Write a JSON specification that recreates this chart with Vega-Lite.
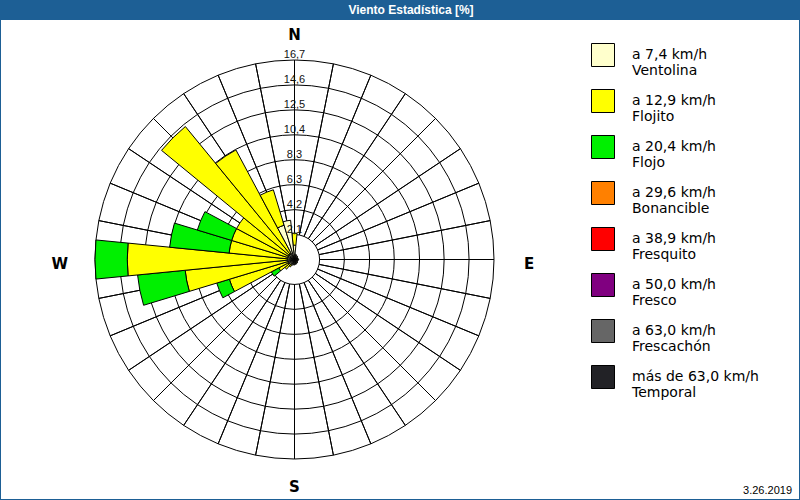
{
  "$schema": "https://vega.github.io/schema/vega-lite/v6.json",
  "background": "#1d5f95",
  "padding": {"left": 1, "right": 1, "top": 0, "bottom": 1},
  "spacing": 0,
  "config": {"view": {"stroke": null, "fill": "white"}, "concat": {"spacing": 0}},
  "datasets": {
    "titulo": [{"t": "Viento Estadística [%]"}],
    "spokes": [
      {"a": 0}, {"a": 11.25}, {"a": 22.5}, {"a": 33.75}, {"a": 45}, {"a": 56.25}, {"a": 67.5}, {"a": 78.75},
      {"a": 90}, {"a": 101.25}, {"a": 112.5}, {"a": 123.75}, {"a": 135}, {"a": 146.25}, {"a": 157.5}, {"a": 168.75},
      {"a": 180}, {"a": 191.25}, {"a": 202.5}, {"a": 213.75}, {"a": 225}, {"a": 236.25}, {"a": 247.5}, {"a": 258.75},
      {"a": 270}, {"a": 281.25}, {"a": 292.5}, {"a": 303.75}, {"a": 315}, {"a": 326.25}, {"a": 337.5}, {"a": 348.75}
    ],
    "rings": [
      {"r": 2.0875, "lab": "2,1"}, {"r": 4.175, "lab": "4,2"}, {"r": 6.2625, "lab": "6,3"}, {"r": 8.35, "lab": "8,3"},
      {"r": 10.4375, "lab": "10,4"}, {"r": 12.525, "lab": "12,5"}, {"r": 14.6125, "lab": "14,6"}, {"r": 16.7, "lab": "16,7"}
    ],
    "cardNS": [{"c": "N", "a": 0}, {"c": "S", "a": 180}],
    "cardWE": [{"c": "E", "a": 90}, {"c": "W", "a": 270}],
    "fecha": [{"f": "3.26.2019"}],
    "wind": [
      {"dir": 0, "k": 1, "clase": "a 7,4 km/h|Ventolina", "pct": 1.2},
      {"dir": 0, "k": 2, "clase": "a 12,9 km/h|Flojito", "pct": 1.0},
      {"dir": 11.25, "k": 1, "clase": "a 7,4 km/h|Ventolina", "pct": 0.45},
      {"dir": 22.5, "k": 1, "clase": "a 7,4 km/h|Ventolina", "pct": 0.4},
      {"dir": 33.75, "k": 1, "clase": "a 7,4 km/h|Ventolina", "pct": 0.35},
      {"dir": 45, "k": 1, "clase": "a 7,4 km/h|Ventolina", "pct": 0.35},
      {"dir": 56.25, "k": 1, "clase": "a 7,4 km/h|Ventolina", "pct": 0.3},
      {"dir": 67.5, "k": 1, "clase": "a 7,4 km/h|Ventolina", "pct": 0.3},
      {"dir": 78.75, "k": 1, "clase": "a 7,4 km/h|Ventolina", "pct": 0.3},
      {"dir": 90, "k": 1, "clase": "a 7,4 km/h|Ventolina", "pct": 0.35},
      {"dir": 101.25, "k": 1, "clase": "a 7,4 km/h|Ventolina", "pct": 0.3},
      {"dir": 112.5, "k": 1, "clase": "a 7,4 km/h|Ventolina", "pct": 0.3},
      {"dir": 123.75, "k": 1, "clase": "a 7,4 km/h|Ventolina", "pct": 0.3},
      {"dir": 135, "k": 1, "clase": "a 7,4 km/h|Ventolina", "pct": 0.35},
      {"dir": 146.25, "k": 1, "clase": "a 7,4 km/h|Ventolina", "pct": 0.35},
      {"dir": 157.5, "k": 1, "clase": "a 7,4 km/h|Ventolina", "pct": 0.4},
      {"dir": 168.75, "k": 1, "clase": "a 7,4 km/h|Ventolina", "pct": 0.4},
      {"dir": 180, "k": 1, "clase": "a 7,4 km/h|Ventolina", "pct": 0.45},
      {"dir": 191.25, "k": 1, "clase": "a 7,4 km/h|Ventolina", "pct": 0.45},
      {"dir": 202.5, "k": 1, "clase": "a 7,4 km/h|Ventolina", "pct": 0.5},
      {"dir": 213.75, "k": 1, "clase": "a 7,4 km/h|Ventolina", "pct": 0.5},
      {"dir": 213.75, "k": 2, "clase": "a 12,9 km/h|Flojito", "pct": 0.2},
      {"dir": 225, "k": 1, "clase": "a 7,4 km/h|Ventolina", "pct": 0.55},
      {"dir": 225, "k": 2, "clase": "a 12,9 km/h|Flojito", "pct": 0.5},
      {"dir": 236.25, "k": 1, "clase": "a 7,4 km/h|Ventolina", "pct": 0.6},
      {"dir": 236.25, "k": 2, "clase": "a 12,9 km/h|Flojito", "pct": 0.9},
      {"dir": 236.25, "k": 3, "clase": "a 20,4 km/h|Flojo", "pct": 0.7},
      {"dir": 247.5, "k": 1, "clase": "a 7,4 km/h|Ventolina", "pct": 0.6},
      {"dir": 247.5, "k": 2, "clase": "a 12,9 km/h|Flojito", "pct": 5.1},
      {"dir": 247.5, "k": 3, "clase": "a 20,4 km/h|Flojo", "pct": 1.1},
      {"dir": 258.75, "k": 1, "clase": "a 7,4 km/h|Ventolina", "pct": 0.6},
      {"dir": 258.75, "k": 2, "clase": "a 12,9 km/h|Flojito", "pct": 8.6},
      {"dir": 258.75, "k": 3, "clase": "a 20,4 km/h|Flojo", "pct": 4.0},
      {"dir": 270, "k": 1, "clase": "a 7,4 km/h|Ventolina", "pct": 0.6},
      {"dir": 270, "k": 2, "clase": "a 12,9 km/h|Flojito", "pct": 13.4},
      {"dir": 270, "k": 3, "clase": "a 20,4 km/h|Flojo", "pct": 2.7},
      {"dir": 281.25, "k": 1, "clase": "a 7,4 km/h|Ventolina", "pct": 0.6},
      {"dir": 281.25, "k": 2, "clase": "a 12,9 km/h|Flojito", "pct": 4.9},
      {"dir": 281.25, "k": 3, "clase": "a 20,4 km/h|Flojo", "pct": 5.0},
      {"dir": 292.5, "k": 1, "clase": "a 7,4 km/h|Ventolina", "pct": 0.6},
      {"dir": 292.5, "k": 2, "clase": "a 12,9 km/h|Flojito", "pct": 4.9},
      {"dir": 292.5, "k": 3, "clase": "a 20,4 km/h|Flojo", "pct": 3.0},
      {"dir": 303.75, "k": 1, "clase": "a 7,4 km/h|Ventolina", "pct": 0.6},
      {"dir": 303.75, "k": 2, "clase": "a 12,9 km/h|Flojito", "pct": 4.9},
      {"dir": 315, "k": 1, "clase": "a 7,4 km/h|Ventolina", "pct": 0.6},
      {"dir": 315, "k": 2, "clase": "a 12,9 km/h|Flojito", "pct": 13.8},
      {"dir": 326.25, "k": 1, "clase": "a 7,4 km/h|Ventolina", "pct": 0.6},
      {"dir": 326.25, "k": 2, "clase": "a 12,9 km/h|Flojito", "pct": 9.8},
      {"dir": 337.5, "k": 1, "clase": "a 7,4 km/h|Ventolina", "pct": 3.0},
      {"dir": 337.5, "k": 2, "clase": "a 12,9 km/h|Flojito", "pct": 3.1},
      {"dir": 348.75, "k": 1, "clase": "a 7,4 km/h|Ventolina", "pct": 3.3}
    ]
  },
  "vconcat": [
    {
      "width": 798,
      "height": 20,
      "view": {"fill": "#1d5f95", "stroke": null},
      "data": {"name": "titulo"},
      "mark": {"type": "text", "color": "white", "font": "Liberation Sans", "fontSize": 12, "fontWeight": "bold", "align": "center", "baseline": "middle", "dx": 11},
      "encoding": {"text": {"field": "t"}}
    },
    {
      "hconcat": [
        {
          "width": 587,
          "height": 479,
          "view": {"fill": "white", "stroke": null},
          "resolve": {"scale": {"theta": "independent", "radius": "independent"}},
          "layer": [
            {
              "data": {"name": "spokes"},
              "mark": {"type": "arc", "filled": false, "stroke": "black", "strokeWidth": 1},
              "encoding": {
                "theta": {"field": "a", "type": "quantitative", "scale": {"domain": [0, 360], "range": [0, 6.283185307179586]}},
                "theta2": {"field": "a"},
                "radius": {"datum": 16.7, "type": "quantitative", "scale": {"type": "linear", "domain": [0, 16.7], "range": [0, 199.5]}},
                "radius2": {"datum": 2.0875}
              }
            },
            {
              "data": {"name": "rings"},
              "mark": {"type": "arc", "filled": false, "stroke": "black", "strokeWidth": 1},
              "encoding": {
                "theta": {"datum": 0, "type": "quantitative", "scale": {"domain": [0, 1], "range": [0, 6.283185307179586]}},
                "theta2": {"datum": 1},
                "radius": {"field": "r", "type": "quantitative", "stack": null, "scale": {"type": "linear", "domain": [0, 16.7], "range": [0, 199.5]}}
              }
            },
            {
              "data": {"name": "wind"},
              "transform": [
                {"stack": "pct", "groupby": ["dir"], "sort": [{"field": "k", "order": "ascending"}], "as": ["r0", "r1"]}
              ],
              "mark": {"type": "arc", "stroke": "black", "strokeWidth": 1},
              "encoding": {
                "theta": {"field": "dir", "type": "ordinal", "scale": {"domain": [0, 11.25, 22.5, 33.75, 45, 56.25, 67.5, 78.75, 90, 101.25, 112.5, 123.75, 135, 146.25, 157.5, 168.75, 180, 191.25, 202.5, 213.75, 225, 236.25, 247.5, 258.75, 270, 281.25, 292.5, 303.75, 315, 326.25, 337.5, 348.75], "range": [-0.09817477, 6.18501054], "paddingInner": 0, "paddingOuter": 0}},
                "radius": {"field": "r1", "type": "quantitative", "scale": {"type": "linear", "domain": [0, 16.7], "range": [0, 199.5]}},
                "radius2": {"field": "r0"},
                "color": {
                  "field": "clase", "type": "nominal",
                  "scale": {
                    "domain": ["a 7,4 km/h|Ventolina", "a 12,9 km/h|Flojito", "a 20,4 km/h|Flojo", "a 29,6 km/h|Bonancible", "a 38,9 km/h|Fresquito", "a 50,0 km/h|Fresco", "a 63,0 km/h|Frescachón", "más de 63,0 km/h|Temporal"],
                    "range": ["#ffffcc", "#ffff00", "#00f000", "#ff8000", "#ff0000", "#800080", "#666666", "#222226"]
                  },
                  "legend": {
                    "title": null, "orient": "none", "legendX": 590, "legendY": 43, "padding": 0,
                    "symbolType": "square", "symbolSize": 529, "symbolStrokeColor": "black", "symbolStrokeWidth": 1, "symbolOpacity": 1,
                    "labelExpr": "split(datum.label, '|')", "labelFont": "DejaVu Sans", "labelFontSize": 14, "labelColor": "black",
                    "labelOffset": 17, "labelLimit": 0, "rowPadding": 9, "labelBaseline": "middle"
                  }
                }
              }
            },
            {
              "data": {"name": "rings"},
              "mark": {"type": "text", "font": "Liberation Sans", "fontSize": 11, "color": "#111111", "align": "center", "baseline": "bottom"},
              "encoding": {
                "theta": {"datum": 0, "type": "quantitative", "scale": {"domain": [0, 360], "range": [0, 6.283185307179586]}},
                "radius": {"field": "r", "type": "quantitative", "stack": null, "scale": {"type": "linear", "domain": [0, 16.7], "range": [0, 199.5]}},
                "text": {"field": "lab"}
              }
            },
            {
              "data": {"name": "cardNS"},
              "mark": {"type": "text", "font": "DejaVu Sans", "fontSize": 15, "fontWeight": "bold", "color": "black", "align": "center", "baseline": "middle", "dy": 1.5},
              "encoding": {
                "theta": {"field": "a", "type": "quantitative", "scale": {"domain": [0, 360], "range": [0, 6.283185307179586]}},
                "radius": {"datum": 18.88, "type": "quantitative", "scale": {"type": "linear", "domain": [0, 16.7], "range": [0, 199.5]}},
                "text": {"field": "c"}
              }
            },
            {
              "data": {"name": "cardWE"},
              "mark": {"type": "text", "font": "DejaVu Sans", "fontSize": 15, "fontWeight": "bold", "color": "black", "align": "center", "baseline": "middle", "dy": 4},
              "encoding": {
                "theta": {"field": "a", "type": "quantitative", "scale": {"domain": [0, 360], "range": [0, 6.283185307179586]}},
                "radius": {"datum": 19.65, "type": "quantitative", "scale": {"type": "linear", "domain": [0, 16.7], "range": [0, 199.5]}},
                "text": {"field": "c"}
              }
            }
          ]
        },
        {
          "width": 211,
          "height": 479,
          "data": {"name": "fecha"},
          "mark": {"type": "text", "align": "right", "baseline": "bottom", "dx": -7, "dy": -3, "font": "Liberation Sans", "fontSize": 11, "color": "black"},
          "encoding": {
            "x": {"value": "width"},
            "y": {"value": "height"},
            "text": {"field": "f"}
          }
        }
      ]
    }
  ]
}
